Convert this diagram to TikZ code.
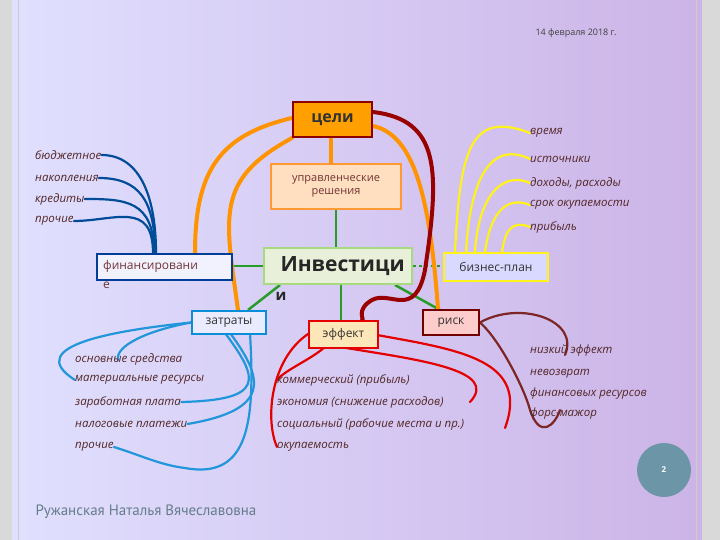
\documentclass[tikz,border=0pt]{standalone}
\usepackage{fontspec}
\setmainfont{Open Sans}
\newfontfamily\itf{Open Sans}
\newfontfamily\capfont{PT Sans}
\pgfdeclarelayer{bg}
\pgfdeclarelayer{lines}
\pgfsetlayers{bg,lines,main}
\begin{document}
\begin{tikzpicture}[x=1pt,y=-1pt,
 box/.style={draw,line width=2pt,inner sep=0pt,anchor=north west,font=\fontsize{12}{13}\selectfont,text=black!80},
 itm/.style={anchor=west,font=\itf\itshape\fontsize{11.5}{12}\selectfont,text=red!20!black!85,inner sep=0pt},
 grn/.style={draw=green!55!black!85,line width=2.5pt},
 org/.style={draw=orange!85!yellow,line width=4pt,line cap=round},
 drd/.style={draw=red!60!black,line width=4pt,line cap=round},
 blu/.style={draw=blue!50!cyan!60!black,line width=2.2pt,line cap=round},
 yel/.style={draw=yellow!90!white,line width=2.2pt,line cap=round},
 cya/.style={draw=cyan!75!blue!90,line width=2.2pt,line cap=round},
 red2/.style={draw=red!90!black,line width=2.2pt,line cap=round},
 brn/.style={draw=red!40!black!85,line width=2.2pt,line cap=round}]
\useasboundingbox (0,0) rectangle (720,540);
\begin{pgfonlayer}{bg}
\shade[left color=blue!12!white,right color=blue!35!violet!30!white] (0,0) rectangle (720,540);
\fill[gray!30] (0,0) rectangle (12,540);
\fill[gray!30] (702,0) rectangle (720,540);
\draw[gray!40,line width=1pt] (18,0) -- (18,540) (696,0) -- (696,540);
\end{pgfonlayer}
\node[anchor=west,font=\fontsize{9}{10}\selectfont,text=black!75] (date) at (532,33) {14 февраля 2018 г.};
\node[anchor=west,font=\capfont\fontsize{15}{16}\selectfont,text=cyan!35!black!80] (auth) at (32,512) {Ружанская Наталья Вячеславовна};
\node[circle,fill=cyan!50!black!75,minimum size=54pt,text=white,font=\bfseries\fontsize{8}{9}\selectfont] (pg) at (664,470) {2};
% nodes
\node[box,fill=orange!75!yellow,draw=red!55!black,minimum width=79pt,minimum height=35pt,font=\bfseries\fontsize{16}{17}\selectfont] (tsel) at (292,101) {цели};
\node[box,fill=orange!25!white,draw=orange!80,minimum width=130pt,minimum height=45pt,align=center,text=red!30!black!80,font=\fontsize{11}{13}\selectfont] (upr) at (270,163) {управленческие\\решения};
\node[box,fill=green!20!olive!15!white,draw=green!40!olive!50,minimum width=148pt,minimum height=36pt] (inv) at (263,247) {};
\node[anchor=west,font=\bfseries\fontsize{21}{22}\selectfont,text=black!85] (invt) at (277,266) {Инвестици};
\node[anchor=west,font=\bfseries\fontsize{15}{16}\selectfont,text=black!85] (invi) at (272,296) {и};
\node[box,fill=blue!5!white,draw=blue!60!cyan!60!black,minimum width=135pt,minimum height=26pt] (fin) at (96,253) {};
\node[anchor=west,font=\fontsize{12}{13}\selectfont,text=red!30!black!80,inner sep=0pt] (fint) at (103,266) {финансировани};
\node[anchor=west,font=\fontsize{12}{13}\selectfont,text=red!30!black!80,inner sep=0pt] (fine) at (103,285) {е};
\node[box,fill=white!85!blue,draw=yellow!90!white,minimum width=104pt,minimum height=28pt] (biz) at (443,252) {бизнес-план};
\node[box,fill=blue!8!white,draw=cyan!75!blue,minimum width=74pt,minimum height=23pt] (zat) at (191,310) {затраты};
\node[box,fill=yellow!30!orange!25!white,draw=red!90!black,minimum width=69pt,minimum height=27pt] (eff) at (308,320) {эффект};
\node[box,fill=red!20!white,draw=red!45!black,minimum width=56pt,minimum height=25pt] (risk) at (422,309) {риск};
\node[itm] (l1) at (35,155) {бюджетное};
\node[itm] (l2) at (35,178) {накопления};
\node[itm] (l3) at (35,199) {кредиты};
\node[itm] (l4) at (35,221) {прочие};
\node[itm] (r1) at (530,133) {время};
\node[itm] (r2) at (530,159) {источники};
\node[itm] (r3) at (530,183) {доходы, расходы};
\node[itm] (r4) at (530,205) {срок окупаемости};
\node[itm] (r5) at (530,227) {прибыль};
\node[itm] (b1) at (75,359) {основные средства};
\node[itm] (b2) at (75,380) {материальные ресурсы};
\node[itm] (b3) at (75,402) {заработная плата};
\node[itm] (b4) at (75,424) {налоговые платежи};
\node[itm] (b5) at (75,447) {прочие};
\node[itm] (m1) at (277,380) {коммерческий (прибыль)};
\node[itm] (m2) at (277,402) {экономия (снижение расходов)};
\node[itm] (m3) at (277,424) {социальный (рабочие места и пр.)};
\node[itm] (m4) at (277,447) {окупаемость};
\node[itm] (k1) at (530,351) {низкий эффект};
\node[itm] (k2) at (530,374) {невозврат};
\node[itm] (k3) at (530,394) {финансовых ресурсов};
\node[itm] (k4) at (530,414) {форс-мажор};
\begin{pgfonlayer}{lines}
\draw[grn] (inv.west) -- (fin.east|-inv.west);
\draw[grn,dashed] (inv.east) -- (biz.west|-inv.east);
\draw[grn] (upr.south) -- (upr.south|-inv.north);
\draw[grn] (inv.south-|341,0) -- (eff.north-|341,0);
\draw[grn] (inv.south-|280,0) -- (248,310);
\draw[grn] (inv.south-|395,0) -- (440,310);
\draw[org] (tsel.south-|331,0) -- (upr.north-|331,0);
\draw[org] (tsel.west|-0,118) .. controls (220,135) and (195,170) .. (195,253);
\draw[org] (tsel.south west) .. controls (215,180) and (225,215) .. (238,310);
\draw[org] (tsel.east|-0,126) .. controls (415,135) and (430,200) .. (438,309);
\draw[drd] (tsel.east|-0,112) .. controls (440,120) and (440,170) .. (425,270) .. controls (415,320) and (390,290) .. (372,300) .. controls (355,310) and (365,320) .. (362,320);
\foreach \t/\xx in {l1/156,l2/155,l3/154,l4/153}
  \draw[blu] (\t.east) .. controls +(40,0) and (\xx,200) .. (\xx,253);
\draw[yel] (455,252) .. controls (460,150) and (470,110) .. (r1.west);
\draw[yel] (466,252) .. controls (470,180) and (490,140) .. (r2.west);
\draw[yel] (475,252) .. controls (478,200) and (500,170) .. (r3.west);
\draw[yel] (485,252) .. controls (490,215) and (505,195) .. (r4.west);
\draw[yel] (502,252) .. controls (505,230) and (512,220) .. (r5.west);
\draw[cya] (zat.west) .. controls (120,330) and (20,345) .. (b2.west);
\draw[cya] (zat.west) .. controls (150,330) and (115,345) .. (118,360);
\draw[cya] (225,333) .. controls (260,380) and (265,400) .. (b3.east);
\draw[cya] (230,333) .. controls (265,380) and (270,410) .. (b4.east);
\draw[cya] (250,333) .. controls (255,420) and (250,480) .. (185,468) .. controls (160,465) and (140,455) .. (b5.east);
\draw[red2] (325,347) .. controls (310,360) and (285,370) .. (m1.west);
\draw[red2] (308,334) .. controls (270,360) and (265,420) .. (m4.west);
\draw[red2] (340,347) .. controls (420,360) and (500,370) .. (470,402);
\draw[red2] (377,335) .. controls (460,350) and (530,360) .. (505,428);
\draw[brn] (risk.east) .. controls (520,300) and (580,320) .. (565,355);
\draw[brn] (risk.east) .. controls (500,340) and (525,390) .. (530,410) .. controls (540,440) and (555,425) .. (560,410);
\end{pgfonlayer}
\end{tikzpicture}
\end{document}
